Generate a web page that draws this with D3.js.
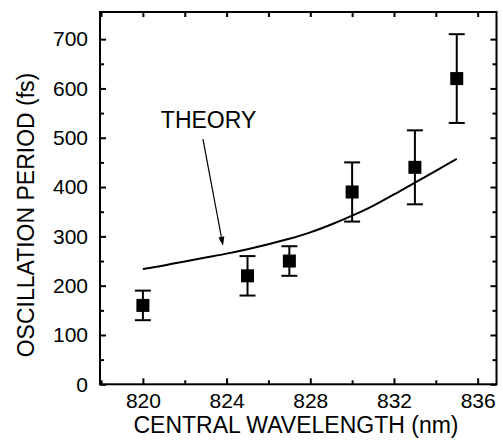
<!DOCTYPE html>
<html><head><meta charset="utf-8">
<script src="https://cdn.jsdelivr.net/npm/d3@7"></script>
<style>
body{margin:0;background:#fff}
text{font-family:"Liberation Sans",Arial,Helvetica,sans-serif;fill:#000}
.tick text{font-size:21px}
</style>
</head><body>
<svg id="chart" width="503" height="444"></svg>
<script>
// ---- data ----
const wavelengths = [820, 825, 827, 830, 833, 835];
const periods     = [160, 220, 250, 390, 440, 620];
const errors      = [30, 40, 30, 60, 75, 90];
const theoryWavelengths = [820, 821, 822, 823, 824, 825, 826, 827, 828, 829, 830, 831, 832, 833, 834, 835];
const theoryPeriods     = [234, 241, 249, 257, 265, 274, 284, 295, 308, 324, 342, 362, 385, 409, 433, 457];
const xTickValues = [820, 824, 828, 832, 836];
const xMinorTicks = [818, 822, 826, 830, 834];
const yTickValues = [0, 100, 200, 300, 400, 500, 600, 700];
const yMinorTicks = [50, 150, 250, 350, 450, 550, 650];
const annotation = {label: "THEORY", textX: 823.14, textY: 520, fromX: 822.87, fromY: 497, toX: 823.83, toY: 281};

// ---- layout ----
const svg = d3.select("#chart");
const mLeft = 100, mRight = 496.5, mTop = 12, mBottom = 384.3;
const x = d3.scaleLinear().domain([817.95, 836.9]).range([mLeft, mRight]);
const y = d3.scaleLinear().domain([0, 755]).range([mBottom, mTop]);

const axisStyle = g => {
  g.attr("font-family", null).attr("font-size", null);
  g.select(".domain").remove();
  g.selectAll(".tick line").attr("stroke", "#000").attr("stroke-width", 2);
  g.selectAll(".tick text").attr("fill", "#000");
};

// bottom axis (labels)
svg.append("g").attr("transform", `translate(0,${mBottom})`)
  .call(d3.axisBottom(x).tickValues(xTickValues).tickSize(-6).tickPadding(9).tickFormat(d3.format("d")))
  .call(axisStyle);
svg.append("g").attr("transform", `translate(0,${mBottom})`)
  .call(d3.axisBottom(x).tickValues(xMinorTicks).tickSize(-4).tickFormat(""))
  .call(axisStyle);
// top axis
svg.append("g").attr("transform", `translate(0,${mTop})`)
  .call(d3.axisTop(x).tickValues(xTickValues.concat(xMinorTicks)).tickSize(-5).tickFormat(""))
  .call(axisStyle);
// left axis
svg.append("g").attr("transform", `translate(${mLeft},0)`)
  .call(d3.axisLeft(y).tickValues(yTickValues).tickSize(-6).tickPadding(12).tickFormat(d3.format("d")))
  .call(axisStyle);
svg.append("g").attr("transform", `translate(${mLeft},0)`)
  .call(d3.axisLeft(y).tickValues(yMinorTicks).tickSize(-4).tickFormat(""))
  .call(axisStyle);
// right axis
svg.append("g").attr("transform", `translate(${mRight},0)`)
  .call(d3.axisRight(y).tickValues(yTickValues).tickSize(-6).tickFormat(""))
  .call(axisStyle);
svg.append("g").attr("transform", `translate(${mRight},0)`)
  .call(d3.axisRight(y).tickValues(yMinorTicks).tickSize(-4).tickFormat(""))
  .call(axisStyle);

// frame
svg.append("rect").attr("x", mLeft).attr("y", mTop)
  .attr("width", mRight - mLeft).attr("height", mBottom - mTop)
  .attr("fill", "none").attr("stroke", "#000").attr("stroke-width", 2);

// theory curve
svg.append("path")
  .datum(theoryWavelengths.map((w, i) => [w, theoryPeriods[i]]))
  .attr("fill", "none").attr("stroke", "#000").attr("stroke-width", 2)
  .attr("d", d3.line().x(d => x(d[0])).y(d => y(d[1])).curve(d3.curveMonotoneX));

// error bars + squares
const pts = wavelengths.map((w, i) => ({w, p: periods[i], e: errors[i]}));
const g = svg.append("g").attr("stroke", "#000").attr("stroke-width", 2);
g.selectAll(".v").data(pts).join("line")
  .attr("x1", d => x(d.w)).attr("x2", d => x(d.w))
  .attr("y1", d => y(d.p - d.e)).attr("y2", d => y(d.p + d.e));
g.selectAll(".ct").data(pts).join("line")
  .attr("x1", d => x(d.w) - 8).attr("x2", d => x(d.w) + 8)
  .attr("y1", d => y(d.p + d.e)).attr("y2", d => y(d.p + d.e));
g.selectAll(".cb").data(pts).join("line")
  .attr("x1", d => x(d.w) - 8).attr("x2", d => x(d.w) + 8)
  .attr("y1", d => y(d.p - d.e)).attr("y2", d => y(d.p - d.e));
svg.selectAll(".sq").data(pts).join("rect")
  .attr("x", d => x(d.w) - 6.5).attr("y", d => y(d.p) - 6.5)
  .attr("width", 13).attr("height", 13).attr("fill", "#000");

// annotation
svg.append("text").attr("x", x(annotation.textX)).attr("y", y(annotation.textY))
  .attr("text-anchor", "middle").style("font-size", "23px").text(annotation.label);
const ax1 = x(annotation.fromX), ay1 = y(annotation.fromY), ax2 = x(annotation.toX), ay2 = y(annotation.toY);
const ang = Math.atan2(ay2 - ay1, ax2 - ax1);
const hl = 9, hw = 3;
const bx = ax2 - hl * Math.cos(ang), by = ay2 - hl * Math.sin(ang);
svg.append("line").attr("x1", ax1).attr("y1", ay1).attr("x2", bx).attr("y2", by)
  .attr("stroke", "#000").attr("stroke-width", 1.2);
svg.append("path").attr("fill", "#000")
  .attr("d", `M${ax2},${ay2}L${bx - hw * Math.sin(ang)},${by + hw * Math.cos(ang)}L${bx + hw * Math.sin(ang)},${by - hw * Math.cos(ang)}Z`);

// axis titles
svg.append("text").attr("x", 296).attr("y", 433).attr("text-anchor", "middle")
  .style("font-size", "23px").text("CENTRAL WAVELENGTH (nm)");
svg.append("text").attr("transform", `translate(34,215) rotate(-90)`).attr("text-anchor", "middle")
  .style("font-size", "23px").text("OSCILLATION PERIOD (fs)");
</script>
</body></html>
